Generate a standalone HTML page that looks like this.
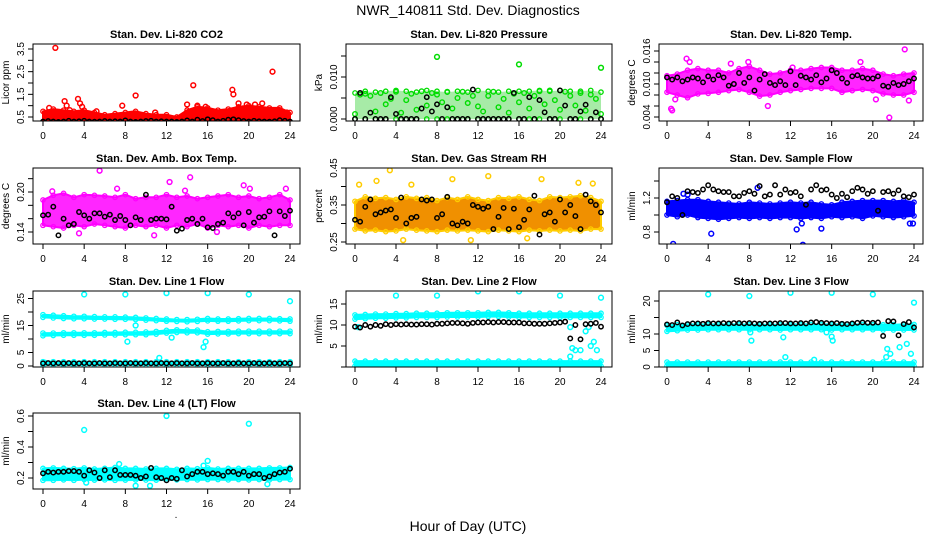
<!DOCTYPE html>
<html><head><meta charset="utf-8"><style>
html,body{margin:0;padding:0;background:#fff;}
svg{display:block;font-family:"Liberation Sans",sans-serif;}
</style></head><body>
<svg id="chart" width="936" height="540" viewBox="0 0 936 540" xmlns="http://www.w3.org/2000/svg">
<rect x="0" y="0" width="936" height="540" fill="#fff"/>
<text x="468" y="15" text-anchor="middle" font-size="14">NWR_140811  Std. Dev. Diagnostics</text>
<text x="468" y="531" text-anchor="middle" font-size="14">Hour of Day (UTC)</text>
<text x="176" y="518" text-anchor="middle" font-size="10">.</text>
</svg>
<script>
const hoursTicks = [0,4,8,12,16,20,24];

const co2Lo = [0.28,0.28,0.28,0.28,0.28,0.28,0.28,0.28,0.28,0.28,0.28,0.28,0.28,0.28,0.28,0.28,0.28,0.28,0.28,0.28,0.28,0.28,0.28,0.28,0.28];
const co2Hi = [0.75,0.85,0.8,0.75,0.8,0.7,0.6,0.65,0.7,0.75,0.65,0.6,0.6,0.5,0.8,0.95,0.9,0.8,0.85,0.95,1.0,0.95,0.9,0.9,0.7];
const co2Ref = [0.3,0.32,0.3,0.28,0.3,0.33,0.3,0.31,0.33,0.3,0.29,0.3,0.32,0.3,0.31,0.3,0.35,0.3,0.28,0.3,0.32,0.33,0.3,0.31,0.3,0.3,0.28,0.3,0.35,0.3,0.38,0.32,0.4,0.36,0.3,0.33,0.38,0.4,0.36,0.32,0.3,0.33,0.31,0.3,0.29,0.31,0.36,0.33,0.3];
const co2OutH = [1.2,2.1,2.3,3.4,3.6,3.8,0.6,7.7,9,10.9,14,14.6,15,15.8,18.4,18.5,19,19.8,20.6,21.3,22.3,23.7,2.6,5.2];
const co2OutV = [3.55,1.2,1.0,1.3,1.1,0.95,0.9,1.0,1.45,0.7,1.05,1.9,1.0,0.95,1.7,1.5,1.1,1.05,1.05,1.1,2.5,0.7,0.8,0.75];

const presLo = [0,0,0,0,0,0,0,0,0,0,0,0,0,0,0,0,0,0,0,0,0,0,0,0,0];
const presHi = [0.0062,0.0066,0.0064,0.0066,0.0068,0.0066,0.0064,0.0068,0.0066,0.0064,0.0066,0.0064,0.0068,0.0066,0.0064,0.0066,0.0066,0.0066,0.0068,0.0066,0.0068,0.0066,0.0066,0.0068,0.0064];
const presRef = [0.0,0.0062,0.0,0.0015,0.0,0.0,0.0,0.0052,0.0012,0.0,0.0,0.0,0.0,0.0025,0.0052,0.0018,0.0035,0.0,0.0028,0.0,0.0,0.0,0.0,0.007,0.0,0.0,0.0,0.0,0.0,0.0,0.0,0.0062,0.0,0.0,0.0052,0.0,0.0045,0.0016,0.0,0.0,0.0068,0.0032,0.0,0.0,0.0018,0.0034,0.0,0.0016,0.0];
const presPts = [0.0012,0.0058,0.006,0.0055,0.0018,0.0062,0.0035,0.0048,0.0065,0.0015,0.0045,0.006,0.0022,0.0066,0.0032,0.0062,0.0058,0.004,0.0065,0.0025,0.005,0.0065,0.0038,0.0055,0.003,0.0018,0.0055,0.0065,0.0028,0.0048,0.0015,0.006,0.004,0.0062,0.0025,0.0055,0.0066,0.0035,0.0068,0.0045,0.0022,0.0065,0.0055,0.0032,0.0062,0.002,0.0058,0.0048,0.0012];
const presOutH = [8,16,24];
const presOutV = [0.0148,0.0130,0.0122];

const tempLo = [0.0085,0.008,0.0075,0.0082,0.0083,0.0085,0.0088,0.009,0.0085,0.0078,0.008,0.0085,0.0088,0.009,0.0092,0.0092,0.0092,0.0085,0.0088,0.009,0.0088,0.0082,0.008,0.008,0.0085];
const tempHi = [0.0115,0.0118,0.0125,0.0128,0.0125,0.0125,0.012,0.0128,0.0132,0.0125,0.0118,0.012,0.0125,0.0125,0.0128,0.013,0.013,0.0125,0.0125,0.0128,0.0125,0.0118,0.0115,0.0118,0.012];
const tempRef = [0.0112,0.0108,0.0112,0.0105,0.0108,0.0112,0.0110,0.0103,0.0114,0.0108,0.0116,0.0112,0.0097,0.0100,0.0120,0.0102,0.0112,0.0088,0.0108,0.0118,0.0102,0.0098,0.0105,0.0098,0.0123,0.0098,0.0115,0.0112,0.0108,0.0116,0.0103,0.0110,0.0125,0.0120,0.0110,0.0102,0.0114,0.0116,0.0112,0.0110,0.0110,0.0114,0.0097,0.0095,0.0102,0.0098,0.0100,0.0105,0.0110];
const tempOutH = [0.4,0.5,1.9,0.8,9.8,21.6,23.1,20.3,23.5,6.2,2.2,7.9,12.2,18.8];
const tempOutV = [0.0055,0.0052,0.0146,0.0072,0.0060,0.0039,0.0163,0.0072,0.0070,0.0137,0.0140,0.0140,0.0130,0.0140];

const ambLo = [0.150,0.148,0.146,0.150,0.148,0.152,0.150,0.148,0.146,0.150,0.148,0.150,0.146,0.150,0.148,0.152,0.146,0.150,0.148,0.150,0.146,0.150,0.148,0.150,0.150];
const ambHi = [0.188,0.195,0.198,0.192,0.196,0.195,0.194,0.192,0.196,0.190,0.192,0.192,0.196,0.192,0.194,0.190,0.192,0.194,0.196,0.192,0.194,0.190,0.192,0.196,0.188];
const ambRef = [0.165,0.166,0.178,0.135,0.160,0.150,0.152,0.170,0.165,0.160,0.168,0.168,0.163,0.166,0.158,0.164,0.158,0.150,0.162,0.158,0.196,0.158,0.160,0.160,0.159,0.178,0.142,0.145,0.158,0.160,0.152,0.160,0.147,0.146,0.152,0.154,0.168,0.162,0.168,0.150,0.170,0.154,0.162,0.163,0.171,0.135,0.171,0.164,0.172];
const ambOutH = [5.5,14.3,10.8,0.9,19.5,12.3,3.5,16.9,7.2,20.1,23.6,13.8];
const ambOutV = [0.232,0.222,0.135,0.201,0.210,0.215,0.138,0.140,0.205,0.205,0.205,0.202];

const rhLo = [0.285,0.280,0.282,0.278,0.280,0.285,0.282,0.280,0.278,0.282,0.280,0.282,0.280,0.278,0.282,0.280,0.278,0.282,0.280,0.282,0.280,0.282,0.280,0.285,0.285];
const rhHi = [0.360,0.372,0.368,0.370,0.365,0.372,0.368,0.370,0.362,0.370,0.365,0.372,0.365,0.362,0.370,0.368,0.372,0.365,0.362,0.372,0.370,0.372,0.375,0.370,0.360];
const rhRef = [0.31,0.305,0.345,0.365,0.325,0.33,0.335,0.338,0.315,0.37,0.30,0.315,0.318,0.365,0.362,0.365,0.315,0.325,0.372,0.30,0.295,0.305,0.30,0.35,0.345,0.34,0.345,0.285,0.318,0.342,0.285,0.34,0.29,0.31,0.338,0.375,0.27,0.325,0.33,0.305,0.365,0.33,0.35,0.32,0.285,0.378,0.36,0.35,0.33];
const rhOutH = [3.4,13,0.4,2.1,18.2,21.8,11.3,4.7,9.5,5.5,16.8,23.2];
const rhOutV = [0.444,0.428,0.405,0.415,0.42,0.41,0.255,0.255,0.42,0.405,0.26,0.408];

const flowLo = [1.0,0.98,1.0,0.97,0.96,0.95,0.96,0.97,0.96,0.97,0.96,0.97,0.97,0.96,0.97,0.96,0.98,0.97,0.98,0.96,0.99,0.98,0.97,0.98,0.99];
const flowHi = [1.16,1.17,1.18,1.18,1.16,1.15,1.14,1.13,1.15,1.14,1.13,1.14,1.15,1.14,1.15,1.13,1.12,1.15,1.16,1.17,1.17,1.17,1.16,1.17,1.15];
const flowRef = [1.15,1.22,1.20,1.00,1.28,1.27,1.26,1.30,1.35,1.30,1.28,1.27,1.27,1.22,1.22,1.26,1.28,1.25,1.34,1.22,1.24,1.35,1.24,1.30,1.26,1.27,1.22,1.12,1.30,1.35,1.29,1.30,1.24,1.20,1.25,1.21,1.28,1.32,1.30,1.25,1.28,1.05,1.27,1.28,1.25,1.29,1.22,1.21,1.24];
const flowOutH = [0.6,13.2,4.3,12.6,15,1.6,23.6,8.8,13.1,2.0,23.9];
const flowOutV = [0.66,0.65,0.78,0.83,0.84,1.25,0.90,1.32,0.90,1.24,0.90];

const l1ULo = [18.0,17.8,17.6,17.5,17.5,17.4,17.4,17.3,17.3,17.2,17.0,16.8,16.6,16.5,16.4,16.5,16.7,16.6,16.6,16.7,16.8,16.8,16.8,16.7,16.6];
const l1UHi = [19.0,18.8,18.6,18.4,18.4,18.3,18.2,18.2,18.1,18.0,17.8,17.6,17.4,17.2,17.2,17.3,17.6,17.4,17.4,17.5,17.6,17.6,17.6,17.5,17.4];
const l1LLo = [11.2,11.3,11.4,11.4,11.4,11.4,11.5,11.5,11.6,11.6,11.6,11.8,12.2,12.4,12.3,12.3,11.8,11.9,11.9,12.0,12.0,12.0,12.0,12.0,12.0];
const l1LHi = [12.2,12.2,12.3,12.3,12.3,12.3,12.4,12.4,12.5,12.5,12.6,12.8,13.2,13.4,13.3,13.3,12.7,12.8,12.8,12.9,12.9,12.9,12.9,12.9,12.9];
const l1BLo = [0.4,0.4,0.4,0.4,0.4,0.4,0.4,0.4,0.4,0.4,0.4,0.4,0.4,0.4,0.4,0.4,0.4,0.4,0.4,0.4,0.4,0.4,0.4,0.4,0.4];
const l1BHi = [1.6,1.6,1.6,1.6,1.6,1.6,1.6,1.6,1.6,1.6,1.6,1.6,1.6,1.6,1.6,1.6,1.6,1.6,1.6,1.6,1.6,1.6,1.6,1.6,1.6];
const l1Ref = [1.0,1.1,1.0,1.1,1.0,1.1,1.0,1.0,1.1,1.0,1.0,1.1,1.0,1.0,1.1,1.0,1.0,1.1,1.0,1.0,1.1,1.0,1.0,1.1,1.0,1.0,1.1,1.0,1.0,1.1,1.0,1.0,1.1,1.0,1.0,1.1,1.0,1.0,1.1,1.0,1.0,1.1,1.0,1.0,1.1,1.0,1.0,1.1,1.0];
const l1OutH = [4,8,12,16,20,24,8.2,12.5,15.6,15.8,9,11.3,0.2];
const l1OutV = [26.5,26.5,27,27,26.5,24,9,10.5,7,9,15,3,1.2];

const l2ULo = [11.4,11.5,11.6,11.6,11.7,11.7,11.8,11.8,11.8,11.9,11.9,11.9,11.9,12.0,12.0,11.9,11.8,11.8,11.8,11.8,11.8,11.8,11.8,11.8,11.8];
const l2UHi = [12.4,12.5,12.6,12.6,12.7,12.7,12.8,12.8,12.8,12.9,12.9,12.9,12.9,13.0,13.0,12.9,12.8,12.8,12.8,12.8,12.8,12.8,12.8,12.8,12.8];
const l2BLo = [0.2,0.2,0.2,0.2,0.2,0.2,0.2,0.2,0.2,0.2,0.2,0.2,0.2,0.2,0.2,0.2,0.2,0.2,0.2,0.2,0.2,0.2,0.2,0.2,0.2];
const l2BHi = [1.4,1.4,1.4,1.4,1.4,1.4,1.4,1.4,1.4,1.4,1.4,1.4,1.4,1.4,1.4,1.4,1.4,1.4,1.4,1.4,1.4,1.4,1.4,1.4,1.4];
const l2Ref = [9.6,9.4,10.0,9.6,10.0,9.8,10.2,10.0,10.2,10.1,10.2,10.1,10.1,10.2,10.2,10.1,10.3,10.3,10.4,10.5,10.5,10.4,10.3,10.5,10.6,10.6,10.7,10.6,10.7,10.7,10.6,10.6,10.6,10.4,10.4,10.3,10.3,10.3,10.4,10.5,10.6,10.8,6.8,10.0,6.6,10.2,10.3,10.5,9.6];
const l2OutH = [4,8,12,16,20,24,21,21.2,21.5,22,22.5,23,23.3,23.6,21,22.8,0.3];
const l2OutV = [17,17,18,18,17,16.5,2.5,4.5,4,4,8.5,5,6,4,9.5,9.5,9.5];

const l3ULo = [10.8,11.0,11.2,11.2,11.3,11.3,11.3,11.3,11.3,11.3,11.3,11.2,11.3,11.3,11.3,11.3,11.2,11.3,11.3,11.3,11.3,11.2,11.2,11.2,11.2];
const l3UHi = [12.6,12.8,12.9,12.9,12.9,12.9,12.9,12.9,12.8,12.8,12.8,12.8,12.9,12.9,12.9,12.9,12.9,12.9,12.9,12.9,12.8,12.8,12.8,12.9,12.9];
const l3BLo = [0.3,0.3,0.3,0.3,0.3,0.3,0.3,0.3,0.3,0.3,0.3,0.3,0.3,0.3,0.3,0.3,0.3,0.3,0.3,0.3,0.3,0.3,0.3,0.3,0.3];
const l3BHi = [1.5,1.5,1.5,1.5,1.5,1.5,1.5,1.5,1.5,1.5,1.5,1.5,1.5,1.5,1.5,1.5,1.5,1.5,1.5,1.5,1.5,1.5,1.5,1.5,1.5];
const l3Ref = [12.9,12.7,13.5,12.6,13.0,13.2,13.2,13.1,13.3,13.2,13.2,13.3,13.2,13.3,13.3,13.2,13.3,13.2,13.1,13.2,13.2,13.2,13.3,13.3,13.2,13.2,13.3,13.2,13.5,13.6,13.4,13.3,13.2,13.3,13.1,13.0,13.2,13.4,13.5,13.4,13.4,13.5,9.4,13.9,13.8,9.6,13.0,13.6,12.0];
const l3OutH = [4,8,12,16,20,24,8.2,8.1,11.3,11.5,14.3,16.1,16,21.3,21.4,21.7,22.6,23.3,23.7,15.5];
const l3OutV = [22,21.5,22.5,22.5,22,19.5,8,10.5,9,3,2.2,8,9.2,3,5.5,4,6,7,4,10.5];

const l4Lo = [0.185,0.185,0.188,0.185,0.19,0.186,0.188,0.185,0.186,0.188,0.187,0.186,0.188,0.188,0.19,0.188,0.19,0.19,0.188,0.19,0.188,0.19,0.188,0.19,0.19];
const l4Hi = [0.262,0.265,0.262,0.260,0.265,0.258,0.262,0.268,0.262,0.262,0.258,0.262,0.262,0.256,0.262,0.260,0.265,0.258,0.262,0.262,0.262,0.262,0.265,0.265,0.268];
const l4Ref = [0.23,0.24,0.235,0.24,0.24,0.245,0.245,0.24,0.215,0.25,0.235,0.2,0.25,0.205,0.25,0.22,0.22,0.22,0.215,0.2,0.21,0.265,0.205,0.2,0.185,0.2,0.195,0.25,0.21,0.225,0.24,0.24,0.225,0.23,0.225,0.215,0.24,0.24,0.225,0.24,0.215,0.225,0.225,0.2,0.21,0.225,0.235,0.24,0.26];
const l4OutH = [4,12,20,16,9,10.4,21.8,7.4,15.6,4.2];
const l4OutV = [0.51,0.6,0.55,0.31,0.15,0.15,0.16,0.29,0.28,0.17];

const NS = 'http://www.w3.org/2000/svg';
const svg = document.getElementById('chart');
function mk(tag, attrs, parent){
  const e = document.createElementNS(NS, tag);
  for (const k in attrs) e.setAttribute(k, attrs[k]);
  (parent||svg).appendChild(e);
  return e;
}
const cols = [{L:33,R:300,h0:43,h24:290},{L:346,R:612,h0:355,h24:601},{L:659,R:923,h0:667,h24:914}];
const rows = [{T:44,B:121},{T:168,B:244},{T:291,B:367},{T:413,B:489}];

function panel(cfg){
  const c = cols[cfg.col], r = rows[cfg.row];
  const g = mk('g', {});
  
  
  const xs = h => c.h0 + h*(c.h24-c.h0)/24;
  const ys = v => cfg.yp1 + (v-cfg.yv1)*(cfg.yp2-cfg.yp1)/(cfg.yv2-cfg.yv1);
  const clip = 'clip-' + cfg.name;
  const cp = mk('clipPath', {id:clip}, g);
  mk('rect', {x:c.L, y:r.T, width:c.R-c.L, height:r.B-r.T}, cp);
  const pg = mk('g', {'clip-path':'url(#'+clip+')'}, g);
  (cfg.bands||[]).forEach((b, bi) => {
    const lo = b[0], hi = b[1];
    let d = '';
    hi.forEach((v,i)=>{ d += (i?'L':'M') + xs(i).toFixed(1) + ',' + ys(v).toFixed(1); });
    for (let i=lo.length-1;i>=0;i--) d += 'L' + xs(i).toFixed(1) + ',' + ys(lo[i]).toFixed(1);
    const p = mk('path', {d:d+'Z', fill:cfg.fill, 'fill-opacity':cfg.fillOp||1, stroke:cfg.bandStroke===0?'none':cfg.color, 'stroke-width':2, 'stroke-linejoin':'round'}, pg);
    
    
    [lo,hi].forEach(arr => arr.forEach((v,i)=>{
      const cc = mk('circle', {cx:xs(i), cy:ys(v), r:2.2, fill:'none', stroke:cfg.color, 'stroke-width':1.3}, pg);
      
      
    }));
  });
  (cfg.pts||[]).forEach((v,i)=>{
    const h = i*24/(cfg.pts.length-1);
    const cc = mk('circle', {cx:xs(h), cy:ys(v), r:2.3, fill:'none', stroke:cfg.color, 'stroke-width':1.4}, pg);
    
    
  });
  (cfg.outH||[]).forEach((h,i)=>{
    const cc = mk('circle', {cx:xs(h), cy:ys(cfg.outV[i]), r:2.4, fill:'none', stroke:cfg.color, 'stroke-width':1.5}, pg);
    
    
  });
  (cfg.ref||[]).forEach((v,i)=>{
    const h = i*24/(cfg.ref.length-1);
    const cc = mk('circle', {cx:xs(h), cy:ys(v), r:2.2, fill:'none', stroke:'#000', 'stroke-width':1.5}, pg);
    
    
  });
  const box = mk('rect', {x:c.L, y:r.T, width:c.R-c.L, height:r.B-r.T, fill:'none', stroke:'#000', 'stroke-width':1}, g);
  
  
  hoursTicks.forEach(h=>{
    mk('line', {x1:xs(h), x2:xs(h), y1:r.B, y2:r.B+5, stroke:'#000'}, g);
    const t = mk('text', {x:xs(h), y:r.B+18, 'text-anchor':'middle', 'font-size':10}, g);
    t.textContent = h;
    
    
  });
  cfg.yt.forEach(v=>{
    mk('line', {x1:c.L-5, x2:c.L, y1:ys(v), y2:ys(v), stroke:'#000'}, g);
  });
  cfg.yl.forEach((s,i)=>{
    const yy = ys(cfg.ylv[i]);
    const t = mk('text', {x:c.L-9, y:yy, 'text-anchor':'middle', 'font-size':10, transform:'rotate(-90 '+(c.L-9)+' '+yy+')'}, g);
    t.textContent = s;
    
    
  });
  const ym = (r.T+r.B)/2, yx = c.L-24;
  const yt = mk('text', {x:yx, y:ym, 'text-anchor':'middle', 'font-size':10, transform:'rotate(-90 '+yx+' '+ym+')'}, g);
  yt.textContent = cfg.ylab;
  
  
  const tt = mk('text', {x:(c.L+c.R)/2, y:r.T-6, 'text-anchor':'middle', 'font-size':11, 'font-weight':'bold'}, g);
  tt.textContent = cfg.title;
  
  
}

panel({name:'co2-panel', col:0,row:0,title:'Stan. Dev. Li-820 CO2',ylab:'Licor ppm',color:'#ff0000',fill:'#ff0000',
  yv1:0.5,yp1:117,yv2:3.5,yp2:49,yt:[0.5,1,1.5,2,2.5,3,3.5],yl:['0.5','1.5','2.5','3.5'],ylv:[0.5,1.5,2.5,3.5],
  bands:[[co2Lo,co2Hi]],outH:co2OutH,outV:co2OutV,ref:co2Ref});
panel({name:'pressure-panel', col:1,row:0,title:'Stan. Dev. Li-820 Pressure',ylab:'kPa',color:'#00dd00',fill:'#22cc22',fillOp:0.4,bandStroke:0,
  yv1:0,yp1:119,yv2:0.010,yp2:77,yt:[0,0.005,0.010,0.015],yl:['0.000','0.010'],ylv:[0,0.010],
  bands:[[presLo,presHi]],pts:presPts,outH:presOutH,outV:presOutV,ref:presRef});
panel({name:'temp-panel', col:2,row:0,title:'Stan. Dev. Li-820 Temp.',ylab:'degrees C',color:'#ff00ff',fill:'#ff00ff',fillOp:0.85,
  yv1:0.004,yp1:117,yv2:0.016,yp2:51,yt:[0.004,0.006,0.008,0.010,0.012,0.014,0.016],yl:['0.004','0.010','0.016'],ylv:[0.004,0.010,0.016],
  bands:[[tempLo,tempHi]],outH:tempOutH,outV:tempOutV,ref:tempRef});
panel({name:'ambbox-panel', col:0,row:1,title:'Stan. Dev. Amb. Box Temp.',ylab:'degrees C',color:'#ff00ff',fill:'#ff00ff',fillOp:0.85,
  yv1:0.14,yp1:232,yv2:0.20,yp2:192,yt:[0.14,0.16,0.18,0.20,0.22],yl:['0.14','0.20'],ylv:[0.14,0.20],
  bands:[[ambLo,ambHi]],outH:ambOutH,outV:ambOutV,ref:ambRef});
panel({name:'rh-panel', col:1,row:1,title:'Stan. Dev. Gas Stream RH',ylab:'percent',color:'#ffcc00',fill:'#f09000',
  yv1:0.25,yp1:242,yv2:0.45,yp2:168,yt:[0.25,0.30,0.35,0.40,0.45],yl:['0.25','0.35','0.45'],ylv:[0.25,0.35,0.45],
  bands:[[rhLo,rhHi]],outH:rhOutH,outV:rhOutV,ref:rhRef});
panel({name:'sampleflow-panel', col:2,row:1,title:'Stan. Dev. Sample Flow',ylab:'ml/min',color:'#0000ff',fill:'#0000ff',
  yv1:0.8,yp1:232,yv2:1.2,yp2:198,yt:[0.8,1.0,1.2,1.4],yl:['0.8','1.2'],ylv:[0.8,1.2],
  bands:[[flowLo,flowHi]],outH:flowOutH,outV:flowOutV,ref:flowRef});
panel({name:'line1-panel', col:0,row:2,title:'Stan. Dev. Line 1 Flow',ylab:'ml/min',color:'#00ffff',fill:'#00ffff',
  yv1:0,yp1:366,yv2:25,yp2:298.5,yt:[0,5,10,15,20,25],yl:['0','5','15','25'],ylv:[0,5,15,25],
  bands:[[l1ULo,l1UHi],[l1LLo,l1LHi],[l1BLo,l1BHi]],outH:l1OutH,outV:l1OutV,ref:l1Ref});
panel({name:'line2-panel', col:1,row:2,title:'Stan. Dev. Line 2 Flow',ylab:'ml/min',color:'#00ffff',fill:'#00ffff',
  yv1:0,yp1:367,yv2:15,yp2:304,yt:[0,5,10,15],yl:['5','10','15'],ylv:[5,10,15],
  bands:[[l2ULo,l2UHi],[l2BLo,l2BHi]],outH:l2OutH,outV:l2OutV,ref:l2Ref});
panel({name:'line3-panel', col:2,row:2,title:'Stan. Dev. Line 3 Flow',ylab:'ml/min',color:'#00ffff',fill:'#00ffff',
  yv1:0,yp1:367,yv2:20,yp2:301,yt:[0,5,10,15,20],yl:['0','5','10','20'],ylv:[0,5,10,20],
  bands:[[l3ULo,l3UHi],[l3BLo,l3BHi]],outH:l3OutH,outV:l3OutV,ref:l3Ref});
panel({name:'line4-panel', col:0,row:3,title:'Stan. Dev. Line 4 (LT) Flow',ylab:'ml/min',color:'#00ffff',fill:'#00ffff',
  yv1:0.2,yp1:478,yv2:0.6,yp2:416,yt:[0.2,0.3,0.4,0.5,0.6],yl:['0.2','0.4','0.6'],ylv:[0.2,0.4,0.6],
  bands:[[l4Lo,l4Hi]],outH:l4OutH,outV:l4OutV,ref:l4Ref});
</script>
</body></html>
